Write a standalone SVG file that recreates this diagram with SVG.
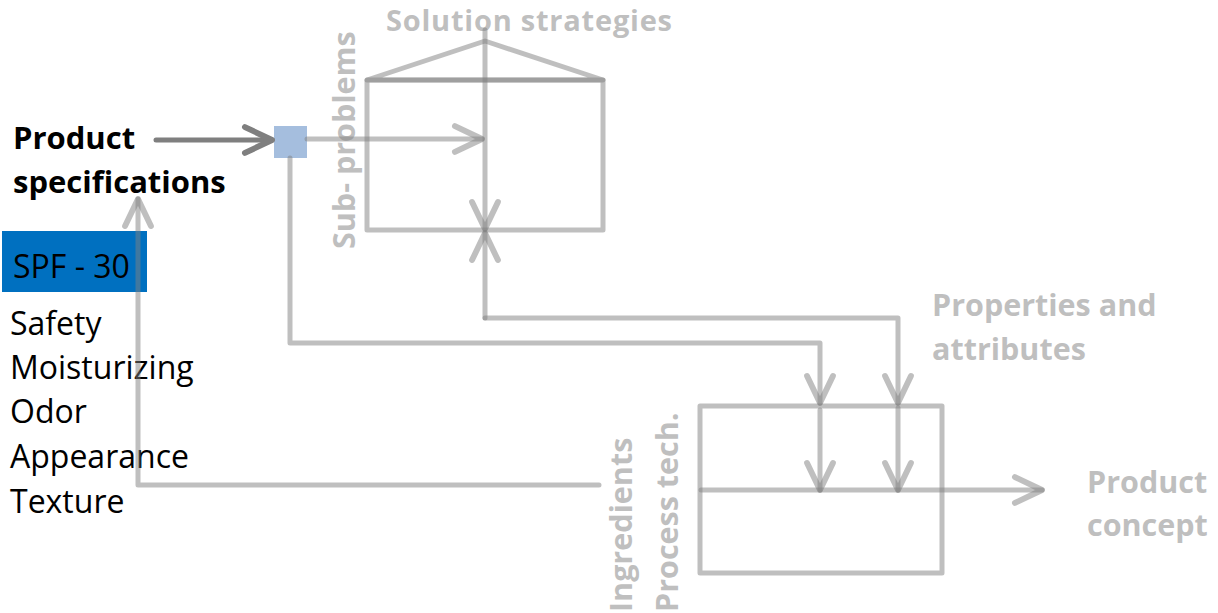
<svg xmlns="http://www.w3.org/2000/svg" width="1218" height="613" viewBox="0 0 1218 613">
<style>
.ln{fill:none;stroke:#808080;stroke-opacity:0.5;stroke-width:5;stroke-linejoin:round;stroke-linecap:round}
.dk{fill:none;stroke:#7f7f7f;stroke-width:5;stroke-linecap:round}
.gl{font-family:"Open Sans","Liberation Sans",sans-serif;font-weight:700;font-size:30.5px;fill:#bfbfbf}
.bl{font-family:"Open Sans","Liberation Sans",sans-serif;font-weight:700;font-size:31px;fill:#000}
.tx{font-family:"Open Sans","Liberation Sans",sans-serif;font-size:32px;fill:#000}
</style>
<defs>
<marker id="ag" markerUnits="userSpaceOnUse" markerWidth="40" markerHeight="40" viewBox="-30 -15 34 30" refX="0" refY="0" orient="auto">
<path d="M-23,-11 L0,0 L-23,11" fill="none" stroke="#808080" stroke-opacity="0.5" stroke-width="5" stroke-linecap="round" stroke-linejoin="round"/>
</marker>
<marker id="ad" markerUnits="userSpaceOnUse" markerWidth="40" markerHeight="40" viewBox="-30 -15 34 30" refX="0" refY="0" orient="auto">
<path d="M-23,-11 L0,0 L-23,11" fill="none" stroke="#7f7f7f" stroke-width="5" stroke-linecap="round" stroke-linejoin="round"/>
</marker>
</defs>

<g id="strategies-box">
<rect x="367" y="80" width="236" height="150" class="ln"/>
<path d="M367,80 L485,41 L603,80 Z" class="ln"/>
<text class="gl" x="386" y="31" style="font-size:29px" textLength="286" lengthAdjust="spacing">Solution strategies</text>
<text class="gl" transform="translate(355,249) rotate(-90)">Sub- problems</text>
</g>

<g id="concept-box">
<rect x="700" y="406" width="242" height="167" class="ln"/>
<text class="gl" transform="translate(632,612) rotate(-90)">Ingredients</text>
<text class="gl" transform="translate(678,612) rotate(-90)">Process tech.</text>
</g>

<g id="junction">
<rect x="274" y="126" width="33" height="32" fill="#a5bede"/>
</g>

<g id="product-specs">
<text class="bl" x="13" y="149">Product</text>
<text class="bl" x="13" y="193">specifications</text>
</g>

<g id="spf">
<rect x="2" y="231" width="145" height="61" fill="#0070c0"/>
<text class="tx" x="13" y="278">SPF - 30</text>
</g>

<g id="attributes-list">
<text class="tx" x="10" y="335">Safety</text>
<text class="tx" x="10" y="379">Moisturizing</text>
<text class="tx" x="10" y="423">Odor</text>
<text class="tx" x="10" y="468">Appearance</text>
<text class="tx" x="10" y="513">Texture</text>
</g>

<g id="properties-label">
<text class="gl" x="932" y="316">Properties and</text>
<text class="gl" x="932" y="360">attributes</text>
</g>

<g id="product-concept">
<text class="gl" x="1087" y="493">Product</text>
<text class="gl" x="1087" y="536">concept</text>
</g>

<g id="connectors">
<path d="M156,140 L272,140" class="dk" marker-end="url(#ad)"/>
<path d="M307,139 L482,139" class="ln" marker-end="url(#ag)"/>
<path d="M485,30 L485,229" class="ln" marker-end="url(#ag)"/>
<path d="M485,318 L485,233" class="ln" marker-end="url(#ag)"/>
<path d="M485,318 L898,318 L898,403" class="ln" marker-end="url(#ag)"/>
<path d="M290,158 L290,343 L820,343 L820,403" class="ln" marker-end="url(#ag)"/>
<path d="M820,410 L820,490" class="ln" marker-end="url(#ag)"/>
<path d="M898,408 L898,490" class="ln" marker-end="url(#ag)"/>
<path d="M701,490 L1042,490" class="ln" marker-end="url(#ag)"/>
<path d="M599,485 L138,485 L138,199" class="ln" marker-end="url(#ag)"/>
</g>
</svg>
